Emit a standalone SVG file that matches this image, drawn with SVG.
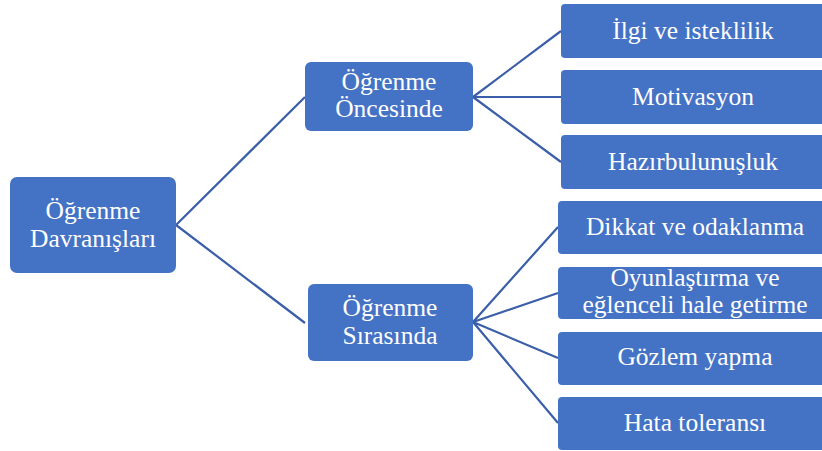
<svg xmlns="http://www.w3.org/2000/svg" width="822" height="451" viewBox="0 0 822 451">
<style>
.box{fill:#4472C4}
.t{fill:#fff;text-anchor:middle}
.c{stroke:#3b5ea8;stroke-width:2.2;fill:none}
</style>
<rect width="822" height="451" fill="#fff"/>
<g id="connectors">
<path class="c" d="M176 225 L305 97 M176 225 L305 323"/>
<path class="c" d="M473 97 L561 31 M473 97 L561 97 M473 97 L561 162"/>
<path class="c" d="M473 322 L558 227 M473 322 L558 293 M473 322 L558 358 M473 322 L558 423"/>
</g>
<g id="root"><rect class="box" x="10" y="177" width="166" height="96" rx="7"/>
<text class="t" font-family="Liberation Serif" font-size="25.5" x="93" y="219">Öğrenme</text><text class="t" font-family="Liberation Serif" font-size="25.5" x="93" y="247">Davranışları</text></g>
<g id="oncesinde"><rect class="box" x="305" y="62" width="168" height="69" rx="6"/>
<text class="t" font-family="Liberation Serif" font-size="25.5" x="389" y="90">Öğrenme</text><text class="t" font-family="Liberation Serif" font-size="25.5" x="389" y="117">Öncesinde</text></g>
<g id="sirasinda"><rect class="box" x="308" y="284" width="165" height="77" rx="6"/>
<text class="t" font-family="Liberation Serif" font-size="25.5" x="390" y="316">Öğrenme</text><text class="t" font-family="Liberation Serif" font-size="25.5" x="390" y="344">Sırasında</text></g>
<g id="ilgi"><rect class="box" x="561" y="4" width="270" height="54" rx="4"/><text class="t" font-family="Liberation Serif" font-size="25.5" x="693" y="39">İlgi ve isteklilik</text></g>
<g id="motivasyon"><rect class="box" x="561" y="70" width="270" height="54" rx="4"/><text class="t" font-family="Liberation Serif" font-size="25.5" x="693" y="105">Motivasyon</text></g>
<g id="hazir"><rect class="box" x="561" y="135" width="270" height="54" rx="4"/><text class="t" font-family="Liberation Serif" font-size="25.5" x="693" y="170">Hazırbulunuşluk</text></g>
<g id="dikkat"><rect class="box" x="558" y="201" width="272" height="53" rx="4"/><text class="t" font-family="Liberation Serif" font-size="25.5" x="695" y="235">Dikkat ve odaklanma</text></g>
<g id="oyun"><rect class="box" x="558" y="267" width="272" height="52" rx="4"/><text class="t" font-family="Liberation Serif" font-size="25.5" x="695" y="286">Oyunlaştırma ve</text><text class="t" font-family="Liberation Serif" font-size="25.5" x="695" y="313">eğlenceli hale getirme</text></g>
<g id="gozlem"><rect class="box" x="558" y="332" width="272" height="53" rx="4"/><text class="t" font-family="Liberation Serif" font-size="25.5" x="695" y="365">Gözlem yapma</text></g>
<g id="hata"><rect class="box" x="558" y="397" width="272" height="53" rx="4"/><text class="t" font-family="Liberation Serif" font-size="25.5" x="695" y="431">Hata toleransı</text></g>
</svg>
